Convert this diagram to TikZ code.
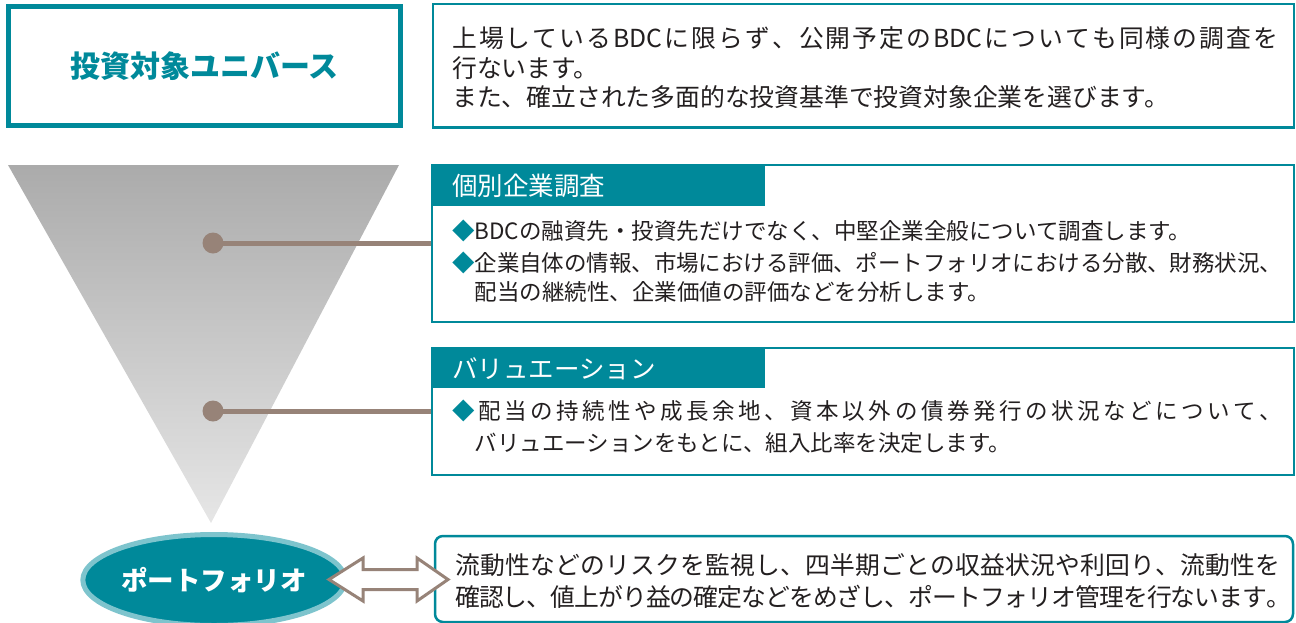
\documentclass[tikz,border=0pt]{standalone}
\usepackage{fontspec}
\setmainfont{Noto Sans CJK JP}
\usetikzlibrary{shapes.geometric,calc}
\definecolor{tealA}{HTML}{00899A}
\definecolor{tealL}{HTML}{7EC4CD}
\definecolor{brownA}{HTML}{978378}
\definecolor{textA}{HTML}{231F20}
\definecolor{grayT}{HTML}{ABABAB}
\definecolor{grayB}{HTML}{E6E6E6}
\tikzset{
  framebox/.style={draw=tealA, line width=2.5pt, inner sep=0},
  headbox/.style={fill=tealA, inner sep=0},
  headtext/.style={text=white, inner sep=0, anchor=west, font=\fontsize{25.5}{30}\selectfont, text height=20pt, text depth=0pt},
  bodytext/.style={text=textA, inner sep=0, anchor=west, font=\fontsize{22.5}{30}\selectfont, text height=17.6pt, text depth=0pt},
  bigtext/.style={text=textA, inner sep=0, anchor=west, font=\fontsize{24.8}{30}\selectfont, text height=19.4pt, text depth=0pt},
  dot/.style={circle, fill=brownA, minimum size=21pt, inner sep=0},
  conn/.style={draw=brownA, line width=5pt},
}
\newcommand{\dia}{\textcolor{tealA}{◆}}
\ExplSyntaxOn
\NewDocumentCommand\jline{mm}{\hbox_to_wd:nn{#1}{\tl_map_inline:nn{#2}{##1\hskip 0pt plus 1fil minus 0.25em}\unskip}}
\ExplSyntaxOff
\begin{document}
\begin{tikzpicture}[x=1pt,y=-1pt]
\useasboundingbox (0,0) rectangle (1296,622);
% funnel
\shade[top color=grayT, bottom color=grayB] (8,165) -- (399,165) -- (211,523) -- cycle;

% universe
\node[draw=tealA, line width=5pt, minimum width=392pt, minimum height=119pt, inner sep=0,
      text=tealA, font=\fontsize{30}{36}\bfseries\selectfont] (univ) at (204.5,66) {投資対象ユニバース};
\node[framebox, minimum width=861pt, minimum height=123.5pt] (ubox) at (863.5,65.75) {};
\node[bigtext] (u1) at (452,38) {\jline{826pt}{上場している{BDC}に限らず、公開予定の{BDC}についても同様の調査を}};
\node[bigtext] (u2) at (452,68) {行ないます。};
\node[bigtext] (u3) at (452,97) {また、確立された多面的な投資基準で投資対象企業を選びます。};

% box 2
\node[framebox, minimum width=862pt, minimum height=157pt] (b2) at (863,243.5) {};
\node[headbox, minimum width=333pt, minimum height=41pt] (h2) at (598.5,185.5) {};
\node[headtext] (h2t) at (452,185) {個別企業調査};
\node[bodytext] (b2a) at (452,231) {\dia BDCの融資先・投資先だけでなく、中堅企業全般について調査します。};
\node[bodytext] (b2b) at (452,263) {\jline{830pt}{\dia 企業自体の情報、市場における評価、ポートフォリオにおける分散、財務状況、}};
\node[bodytext] (b2c) at (452,292) {\phantom{◆}配当の継続性、企業価値の評価などを分析します。};

% box 3
\node[framebox, minimum width=862pt, minimum height=127pt] (b3) at (863,411.5) {};
\node[headbox, minimum width=333pt, minimum height=40pt] (h3) at (598.5,368) {};
\node[headtext] (h3t) at (452,368) {バリュエーション};
\node[bodytext] (b3a) at (452,411) {\jline{830pt}{\dia 配当の持続性や成長余地、資本以外の債券発行の状況などについて、}};
\node[bodytext] (b3b) at (452,443) {\phantom{◆}バリュエーションをもとに、組入比率を決定します。};

% connectors
\node[dot] (d1) at (213,243) {};
\node[dot] (d2) at (213,411) {};
\draw[conn] (d1.center) -- (d1 -| b2.west);
\draw[conn] (d2.center) -- (d2 -| b3.west);

% portfolio box
\node[draw=tealA, line width=2.5pt, rounded corners=8pt, minimum width=858pt, minimum height=86pt, inner sep=0] (b4) at (864,579) {};
\node[bigtext] (b4a) at (455,565) {\jline{825pt}{流動性などのリスクを監視し、四半期ごとの収益状況や利回り、流動性を}};
\node[bigtext] (b4b) at (455,597) {\jline{836pt}{確認し、値上がり益の確定などをめざし、ポートフォリオ管理を行ないます。}};

% portfolio ellipse
\node[ellipse, draw=tealL, fill=tealA, line width=5pt, minimum width=259pt, minimum height=91pt, inner sep=0,
      text=white, font=\fontsize{26.5}{30}\bfseries\selectfont] (port) at (214,580) {ポートフォリオ};

% double arrow
\coordinate (aL) at (329,579.5);
\coordinate (aR) at (448,579.5);
\draw[draw=brownA, fill=white, line width=3pt, line join=miter]
  (aL) -- ($(aL)+(34,-21.5)$) -- ($(aL)+(34,-10)$) -- ($(aR)+(-31,-10)$) -- ($(aR)+(-31,-21.5)$)
  -- (aR) -- ($(aR)+(-31,21.5)$) -- ($(aR)+(-31,10)$) -- ($(aL)+(34,10)$) -- ($(aL)+(34,21.5)$) -- cycle;
\end{tikzpicture}
\end{document}
